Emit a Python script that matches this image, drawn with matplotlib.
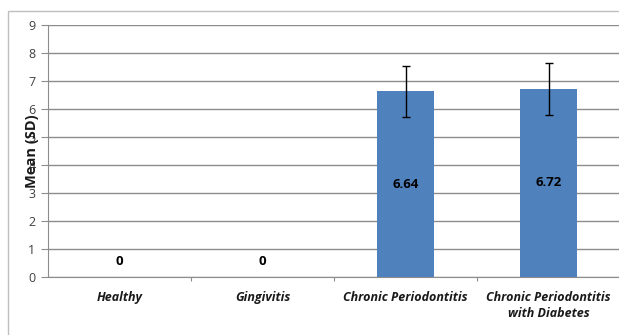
import matplotlib.pyplot as plt
from matplotlib.patches import Rectangle

categories = ["Healthy", "Gingivitis", "Chronic Periodontitis", "Chronic Periodontitis\nwith Diabetes"]
means = [0, 0, 6.64, 6.72]
sds = [0, 0, 0.91, 0.94]
value_labels = ["0", "0", "6.64", "6.72"]

plt.rcParams["font.family"] = ["Open Sans", "DejaVu Sans"]

fig = plt.figure(figsize=(6.19, 3.35), dpi=100)
fig.patches.append(Rectangle((8 / 619, -0.1), 1.0, (335 - 11) / 335 + 0.1,
                             transform=fig.transFigure, fill=False,
                             edgecolor="#bfbfbf", linewidth=1.0))
ax = fig.add_axes([48 / 619, 58 / 335, 572 / 619, 252 / 335])

x = list(range(len(categories)))
ax.bar(x, means, width=0.4, color="#4f81bd", zorder=3)
for i in x:
    if sds[i] > 0:
        ax.errorbar(i, means[i], yerr=sds[i], color="black", capsize=3,
                    elinewidth=1.0, capthick=1.0, zorder=4)
    y = means[i] / 2 if means[i] > 0 else 0.55
    ax.text(i, y, value_labels[i], ha="center", va="center", fontsize=9.5,
            fontweight="bold", color="black", zorder=5)

ax.set_xlim(-0.5, 3.5)
ax.set_ylim(0, 9)
ax.set_yticks(range(10))
ax.yaxis.grid(True, color="#8c8c8c", linewidth=1.0, zorder=0)
ax.set_axisbelow(True)
for s in ["top", "right"]:
    ax.spines[s].set_visible(False)
ax.spines["left"].set_color("#8c8c8c")
ax.spines["bottom"].set_color("#8c8c8c")

ax.set_xticks([0.5, 1.5, 2.5])
ax.set_xticklabels([])
ax.tick_params(axis="x", length=3, color="#8c8c8c")
ax.set_xticks(x, minor=True)
ax.set_xticklabels(categories, minor=True, fontsize=9, fontweight="bold",
                   fontstyle="italic", color="#1a1a1a", linespacing=1.3)
ax.tick_params(axis="x", which="minor", length=0, pad=10)
ax.tick_params(axis="y", length=5, color="#8c8c8c", labelsize=9,
               labelcolor="#404040", pad=4)

ax.set_ylabel("Mean (SD)", fontsize=10.5, fontweight="bold", color="#1a1a1a",
              labelpad=-8)

fig.savefig("out.png", dpi=100)
